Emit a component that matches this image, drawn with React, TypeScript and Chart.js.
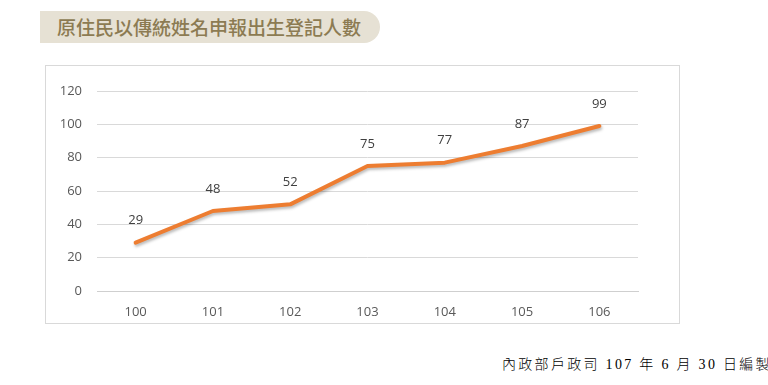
import React, { useEffect, useRef } from "react";
import { Chart, registerables } from "chart.js";

Chart.register(...registerables);

const title = "原住民以傳統姓名申報出生登記人數";
const footer = "內政部戶政司 107 年 6 月 30 日編製";
const years = ["100", "101", "102", "103", "104", "105", "106"];
const counts = [29, 48, 52, 75, 77, 87, 99];
const yTicks = [0, 20, 40, 60, 80, 100, 120];

const FONT = "'Open Sans', 'Noto Sans', sans-serif";

const valueLabels = {
  id: "valueLabels",
  afterDatasetsDraw(chart: any) {
    const ctx = chart.ctx;
    const meta = chart.getDatasetMeta(0);
    ctx.save();
    ctx.font = `13px ${FONT}`;
    ctx.fillStyle = "#404040";
    ctx.textAlign = "center";
    ctx.textBaseline = "middle";
    meta.data.forEach((pt: any, i: number) => {
      ctx.fillText(String(counts[i]), pt.x, pt.y - 22);
    });
    ctx.restore();
  },
};

const lineShadow = {
  id: "lineShadow",
  beforeDatasetDraw(chart: any) {
    const ctx = chart.ctx;
    ctx.save();
    ctx.shadowColor = "rgba(0,0,0,0.28)";
    ctx.shadowBlur = 3;
    ctx.shadowOffsetX = 1;
    ctx.shadowOffsetY = 2;
  },
  afterDatasetDraw(chart: any) {
    chart.ctx.restore();
  },
};

export default function App() {
  const ref = useRef<HTMLCanvasElement>(null);

  useEffect(() => {
    if (!ref.current) return;
    const chart = new Chart(ref.current, {
      type: "line",
      data: {
        labels: years,
        datasets: [
          {
            data: counts,
            borderColor: "#ED7D31",
            borderWidth: 4,
            pointRadius: 0,
            pointHoverRadius: 0,
            tension: 0,
            borderCapStyle: "round",
            borderJoinStyle: "round",
            fill: false,
          },
        ],
      },
      options: {
        animation: false,
        responsive: true,
        maintainAspectRatio: false,
        layout: { padding: { left: 0, right: 41, top: 25, bottom: 0 } },
        plugins: { legend: { display: false }, tooltip: { enabled: false } },
        scales: {
          x: {
            offset: true,
            grid: { display: false, drawTicks: false },
            border: { display: true, color: "#cfcfcf", width: 1 },
            ticks: { color: "#595959", font: { family: FONT, size: 13 }, padding: 13 },
            afterFit: (s: any) => {
              s.height = 32;
            },
          },
          y: {
            min: 0,
            max: 120,
            afterBuildTicks: (s: any) => {
              s.ticks = yTicks.map((v) => ({ value: v }));
            },
            grid: { color: "#d9d9d9", lineWidth: 1, drawTicks: false },
            border: { display: false },
            ticks: { color: "#595959", font: { family: FONT, size: 13 }, padding: 15 },
            afterFit: (s: any) => {
              s.width = 51;
            },
          },
        },
      },
      plugins: [lineShadow, valueLabels],
    });
    return () => chart.destroy();
  }, []);

  return (
    <div
      style={{
        position: "absolute",
        left: 0,
        top: 0,
        width: 768,
        height: 385,
        background: "#ffffff",
        overflow: "hidden",
      }}
    >
      <div
        style={{
          position: "absolute",
          left: 40,
          top: 11,
          width: 340,
          height: 32,
          background: "#e6e1d4",
          borderRadius: "0 16px 16px 0",
          boxSizing: "border-box",
          paddingLeft: 17,
          lineHeight: "32px",
          fontFamily: "'Noto Sans CJK TC', sans-serif",
          fontSize: 19,
          fontWeight: 500,
          color: "#8c7b52",
          whiteSpace: "nowrap",
        }}
      >
        {title}
      </div>
      <div
        style={{
          position: "absolute",
          left: 45,
          top: 65,
          width: 635,
          height: 259,
          boxSizing: "border-box",
          border: "1px solid #d9d9d9",
        }}
      >
        <div style={{ position: "relative", width: 633, height: 257 }}>
          <canvas ref={ref} />
        </div>
      </div>
      <div
        style={{
          position: "absolute",
          left: 502,
          top: 356,
          fontFamily: "'Liberation Serif', 'Noto Sans CJK TC', serif",
          fontSize: 14,
          fontWeight: 300,
          letterSpacing: 2.3,
          color: "#000000",
          whiteSpace: "nowrap",
          lineHeight: "18px",
        }}
      >
        {footer}
      </div>
    </div>
  );
}
